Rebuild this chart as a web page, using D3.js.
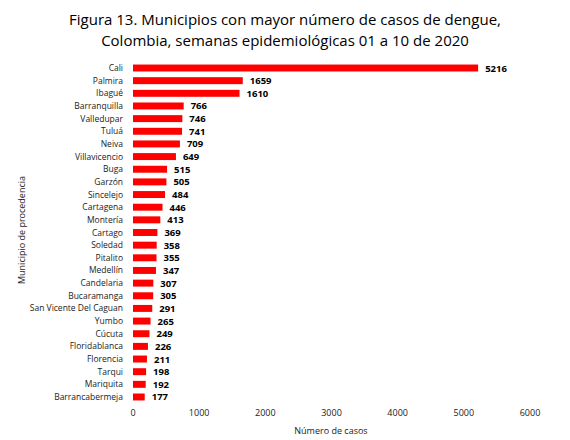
<!DOCTYPE html>
<html><head><meta charset="utf-8">
<script src="https://cdn.jsdelivr.net/npm/d3@7"></script>
<style>body{margin:0;background:#fff}text{font-family:"Open Sans",sans-serif}</style>
</head><body><svg id="c" width="570" height="440"></svg>
<script>
const categories=["Cali","Palmira","Ibagué","Barranquilla","Valledupar","Tuluá","Neiva","Villavicencio","Buga","Garzón","Sincelejo","Cartagena","Montería","Cartago","Soledad","Pitalito","Medellín","Candelaria","Bucaramanga","San Vicente Del Caguan","Yumbo","Cúcuta","Floridablanca","Florencia","Tarqui","Mariquita","Barrancabermeja"];
const values=[5216,1659,1610,766,746,741,709,649,515,505,484,446,413,369,358,355,347,307,305,291,265,249,226,211,198,192,177];
const xTicks=[0,1000,2000,3000,4000,5000,6000];
const svg=d3.select("#c");
const x=d3.scaleLinear().domain([0,6000]).range([133,530]);
const y=d3.scaleBand().domain(categories).range([62,403]).paddingInner(0.45).paddingOuter(0.2);
svg.append("text").attr("x",285).attr("y",25).attr("text-anchor","middle").attr("font-size",15).text("Figura 13. Municipios con mayor número de casos de dengue,");
svg.append("text").attr("x",285).attr("y",46).attr("text-anchor","middle").attr("font-size",15).text("Colombia, semanas epidemiológicas 01 a 10 de 2020");
svg.selectAll("rect.b").data(values).join("rect").attr("x",x(0)).attr("y",(d,i)=>y(categories[i])).attr("width",d=>x(d)-x(0)).attr("height",y.bandwidth()).attr("fill","#ff0000");
svg.selectAll("text.v").data(values).join("text").attr("x",d=>x(d)+7).attr("y",(d,i)=>y(categories[i])+y.bandwidth()/2+3.5).attr("font-size",9.5).attr("font-weight","bold").text(d=>d);
svg.selectAll("text.c").data(categories).join("text").attr("x",123).attr("y",d=>y(d)+y.bandwidth()/2+3).attr("text-anchor","end").attr("font-size",8.5).attr("fill","#222").text(d=>d);
svg.selectAll("text.t").data(xTicks).join("text").attr("x",d=>x(d)).attr("y",416).attr("text-anchor","middle").attr("font-size",9).attr("fill","#222").text(d=>d);
svg.append("text").attr("x",331).attr("y",434).attr("text-anchor","middle").attr("font-size",9).attr("fill","#222").text("Número de casos");
svg.append("text").attr("transform","translate(25,230) rotate(-90)").attr("text-anchor","middle").attr("font-size",9).attr("fill","#222").text("Municipio de procedencia");
</script></body></html>
